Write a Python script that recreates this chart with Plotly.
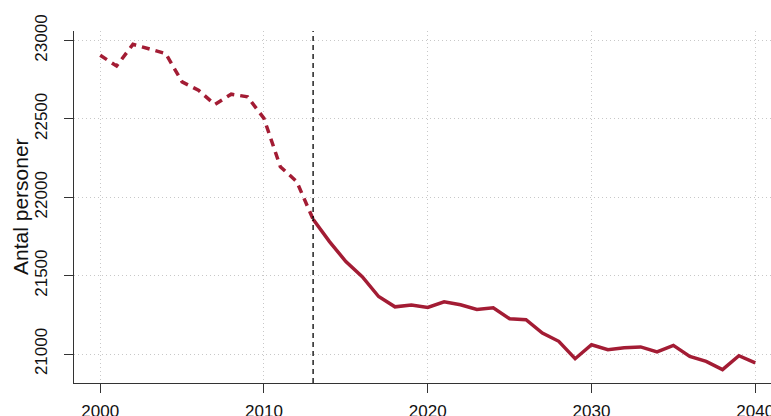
import plotly.graph_objects as go

years_hist = list(range(2000, 2014))
values_hist = [22906, 22838, 22976, 22945, 22917, 22736, 22683, 22592, 22658, 22641,
               22503, 22195, 22100, 21860]
years_proj = list(range(2013, 2041))
values_proj = [21860, 21717, 21590, 21494, 21367, 21301, 21312, 21297, 21333, 21314,
               21284, 21295, 21225, 21219, 21134, 21081, 20970, 21059, 21027, 21040,
               21045, 21013, 21055, 20985, 20953, 20900, 20989, 20943]
split_year = 2013
x_ticks = [2000, 2010, 2020, 2030, 2040]
x_tick_labels = ["2000", "2010", "2020", "2030", "2040"]
y_ticks = [21000, 21500, 22000, 22500, 23000]
y_tick_labels = ["21000", "21500", "22000", "22500", "23000"]
y_title = "Antal personer"

color = "#A31C34"
fig = go.Figure()
fig.add_trace(go.Scatter(x=years_hist, y=values_hist, mode="lines",
                         line=dict(color=color, width=3.5, dash="8px,6px"),
                         showlegend=False))
fig.add_trace(go.Scatter(x=years_proj, y=values_proj, mode="lines",
                         line=dict(color=color, width=3.5),
                         showlegend=False))
fig.add_shape(type="line", x0=split_year, x1=split_year, xref="x", y0=0, y1=1, yref="paper",
              line=dict(color="black", width=1.3, dash="5px,4px"))

axis_font = dict(family="Liberation Sans, Arial", size=17, color="#111111")
fig.update_layout(
    width=771, height=416,
    margin=dict(l=74, r=0, t=31, b=33),
    paper_bgcolor="white", plot_bgcolor="white",
    font=axis_font,
    xaxis=dict(range=[1998.4, 2040.96], tickvals=x_ticks, ticktext=x_tick_labels,
               showline=True, linecolor="#333333", automargin=False,
               linewidth=1, ticks="outside", ticklen=9, tickcolor="#333333",
               showgrid=True, gridcolor="#c8c8c8", griddash="1px,3px", gridwidth=1,
               zeroline=False, ticklabelstandoff=4, tickfont=axis_font,
               ticklabeloverflow="allow"),
    yaxis=dict(range=[20815, 23061], tickvals=y_ticks, ticktext=y_tick_labels,
               showline=True, linecolor="#333333", automargin=False,
               linewidth=1, ticks="outside", ticklen=9, tickcolor="#333333",
               showgrid=True, gridcolor="#c8c8c8", griddash="1px,3px", gridwidth=1,
               zeroline=False, tickangle=-90, ticklabelstandoff=10, tickfont=axis_font),
    annotations=[dict(text=y_title, textangle=-90, xref="paper", yref="paper",
                      x=-54 / 697, y=0.5, xanchor="center", yanchor="middle",
                      showarrow=False, font=dict(family="Liberation Sans, Arial", size=21,
                                                 color="#111111"))],
)
fig.write_html("out.html", config={"displayModeBar": False},
               post_script="document.body.style.margin='0';document.body.style.padding='0';")
